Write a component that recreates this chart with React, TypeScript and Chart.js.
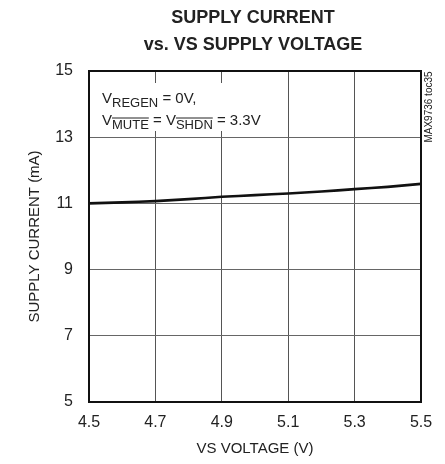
import React, { useEffect, useRef } from "react";
import { Chart, registerables } from "chart.js";

Chart.register(...registerables);

const VOLTAGE = [4.5, 4.6, 4.7, 4.8, 4.9, 5.0, 5.1, 5.2, 5.3, 5.4, 5.5];
const CURRENT = [11.0, 11.03, 11.07, 11.13, 11.2, 11.25, 11.3, 11.36, 11.43, 11.5, 11.59];
const X_TICKS = [4.5, 4.7, 4.9, 5.1, 5.3, 5.5];
const Y_TICKS = [5, 7, 9, 11, 13, 15];
const TITLE_LINES = ["SUPPLY CURRENT", "vs. VS SUPPLY VOLTAGE"];
const X_TITLE = "VS VOLTAGE (V)";
const Y_TITLE = "SUPPLY CURRENT (mA)";
const SIDE_NOTE = "MAX9736 toc35";

const FONT = "'Liberation Sans', Arial, sans-serif";

const decorPlugin = {
  id: "decor",
  beforeDatasetsDraw(chart: any) {
    const { ctx, chartArea } = chart;
    const { left, top } = chartArea;
    ctx.save();
    ctx.fillStyle = "#fff";
    ctx.fillRect(left + 8, top + 12, 160, 48);
    ctx.fillStyle = "#222";
    ctx.textBaseline = "alphabetic";
    ctx.textAlign = "left";
    const big = `15px ${FONT}`;
    const small = `13px ${FONT}`;
    const drawSeq = (x: number, y: number, parts: { t: string; sub?: boolean; over?: boolean }[]) => {
      let cx = x;
      for (const p of parts) {
        ctx.font = p.sub ? small : big;
        const yy = p.sub ? y + 4 : y;
        ctx.fillText(p.t, cx, yy);
        const w = ctx.measureText(p.t).width;
        if (p.over) {
          ctx.strokeStyle = "#222";
          ctx.lineWidth = 1;
          ctx.beginPath();
          ctx.moveTo(cx, yy - 11);
          ctx.lineTo(cx + w, yy - 11);
          ctx.stroke();
        }
        cx += w;
      }
    };
    drawSeq(left + 13, top + 32, [{ t: "V" }, { t: "REGEN", sub: true }, { t: " = 0V," }]);
    drawSeq(left + 13, top + 54, [
      { t: "V" },
      { t: "MUTE", sub: true, over: true },
      { t: " = V" },
      { t: "SHDN", sub: true, over: true },
      { t: " = 3.3V" },
    ]);
    ctx.restore();
  },
  afterDraw(chart: any) {
    const { ctx, chartArea } = chart;
    const { left, right, top, bottom } = chartArea;
    ctx.save();
    ctx.strokeStyle = "#111";
    ctx.lineWidth = 2;
    ctx.strokeRect(left, top, right - left, bottom - top);
    ctx.fillStyle = "#222";
    ctx.textAlign = "center";
    ctx.textBaseline = "middle";
    ctx.font = `bold 18px ${FONT}`;
    const cx = (left + right) / 2 - 2;
    ctx.fillText(TITLE_LINES[0], cx, 18);
    ctx.fillText(TITLE_LINES[1], cx, 45);
    ctx.font = `10px ${FONT}`;
    ctx.translate(right + 8, top + 36);
    ctx.rotate(-Math.PI / 2);
    ctx.fillText(SIDE_NOTE, 0, 0);
    ctx.restore();
  },
};

export default function App() {
  const ref = useRef<HTMLCanvasElement | null>(null);
  useEffect(() => {
    if (!ref.current) return;
    const chart = new Chart(ref.current, {
      type: "line",
      data: {
        datasets: [
          {
            data: VOLTAGE.map((v, i) => ({ x: v, y: CURRENT[i] })),
            borderColor: "#111",
            borderWidth: 2.6,
            pointRadius: 0,
            tension: 0.2,
            fill: false,
          },
        ],
      },
      options: {
        responsive: false,
        animation: false,
        layout: { padding: { top: 71, right: 24, left: 0, bottom: 0 } },
        plugins: { legend: { display: false }, tooltip: { enabled: false }, title: { display: false } },
        scales: {
          x: {
            type: "linear",
            min: 4.5,
            max: 5.5,
            afterBuildTicks: (s: any) => {
              s.ticks = X_TICKS.map((v) => ({ value: v }));
            },
            afterFit: (s: any) => {
              s.height = 62;
            },
            grid: { color: "#555", lineWidth: 1, drawTicks: false },
            border: { display: false },
            ticks: {
              color: "#222",
              font: { family: FONT, size: 16 },
              padding: 11,
              maxRotation: 0,
              autoSkip: false,
              callback: (v: any) => Number(v).toFixed(1),
            },
            title: {
              display: true,
              text: X_TITLE,
              color: "#222",
              font: { family: FONT, size: 15 },
              padding: { top: 0, bottom: 6 },
            },
          },
          y: {
            type: "linear",
            min: 5,
            max: 15,
            afterBuildTicks: (s: any) => {
              s.ticks = Y_TICKS.map((v) => ({ value: v }));
            },
            afterFit: (s: any) => {
              s.width = 89;
            },
            grid: { color: "#666", lineWidth: 1, drawTicks: false },
            border: { display: false },
            ticks: {
              color: "#222",
              font: { family: FONT, size: 16 },
              padding: 16,
              autoSkip: false,
              callback: (v: any) => String(v),
            },
            title: {
              display: true,
              text: Y_TITLE,
              color: "#222",
              font: { family: FONT, size: 15 },
              padding: { top: 26, bottom: 0 },
            },
          },
        },
      },
      plugins: [decorPlugin],
    } as any);
    return () => chart.destroy();
  }, []);
  return (
    <div style={{ position: "fixed", left: 0, top: 0, width: 445, height: 464, background: "#fff" }}>
      <canvas ref={ref} width={445} height={464} />
    </div>
  );
}
